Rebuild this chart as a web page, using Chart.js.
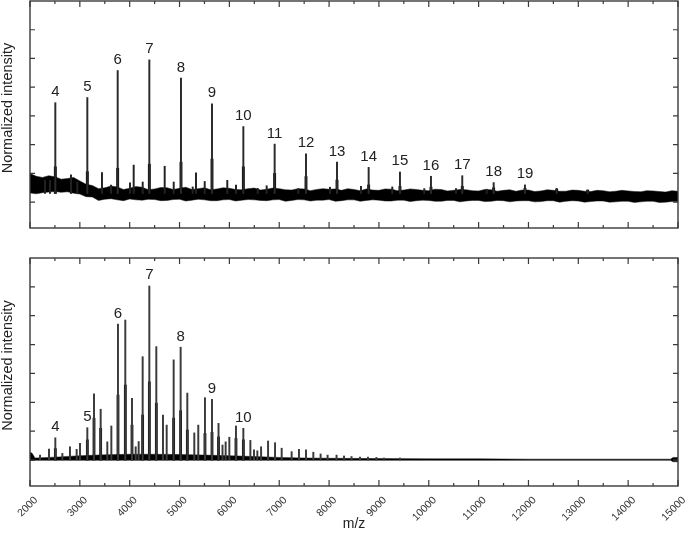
<!DOCTYPE html>
<html>
<head>
<meta charset="utf-8">
<script src="https://cdn.jsdelivr.net/npm/chart.js@4.4.1/dist/chart.umd.min.js"></script>
<style>
html,body{margin:0;padding:0;background:#fff;}
#wrap{position:relative;width:687px;height:533px;overflow:hidden;background:#fff;}
#c1{position:absolute;left:0;top:0;}
#c2{position:absolute;left:0;top:240px;}
</style>
</head>
<body>
<div id="wrap">
<canvas id="c1" width="687" height="240"></canvas>
<canvas id="c2" width="687" height="293"></canvas>
</div>
<script>
// ---------- shared axis data ----------
const X_MIN = 2000, X_MAX = 15000;
const xTickLabels = ['2000','3000','4000','5000','6000','7000','8000','9000','10000','11000','12000','13000','14000','15000'];
const xMinorTicks = [2500,3500,4500,5500,6500,7500,8500,9500,10500,11500,12500,13500,14500];
const yTickValues = [1,2,3,4,5,6,7];
const Y_MIN = 0.1, Y_MAX = 8.0;
const yTitle = 'Normalized intensity';
const xTitle = 'm/z';

// ---------- top panel ----------
const topPeakMz = [2508,3150,3759,4394,5029,5651,6280,6908,7537,8159,8794,9422,10044,10672,11302,11930,12566,13188];
const topPeakY  = [4.46,4.64,5.58,5.95,5.32,4.42,3.63,3.02,2.68,2.39,2.21,2.05,1.90,1.92,1.68,1.60,1.48,1.42];
const topBlobY  = [2.23,2.06,2.18,2.32,2.39,2.50,2.23,2.00,1.89,1.77,1.60,1.55,1.52,1.55,1.50,1.48,1.45,1.42];
const topLabels = ['4','5','6','7','8','9','10','11','12','13','14','15','16','17','18','19'];
const topMinorMz = [2301,2401,2822,2949,3444,3625,4006,4080,4261,4702,4883,5264,5330,5505,5958,6133,6567,6748,7383,8018,8640,9268,9910,10546,11162];
const topMinorY  = [1.76,1.76,1.95,1.70,2.03,1.59,1.67,2.29,1.70,2.25,1.70,1.53,2.02,1.72,1.76,1.59,1.48,1.57,1.47,1.52,1.55,1.53,1.47,1.47,1.45];
const topBase = 1.3;
const topBandX  = [2000,2125,2250,2375,2500,2625,2750,2875,3000,3125,3250,3375,3500,3625,3750,3875,4000,4125,4250,4375,4500,4625,4750,4875,5000,5125,5250,5375,5500,5625,5750,5875,6000,6125,6250,6375,6500,6625,6750,6875,7000,7125,7250,7375,7500,7625,7750,7875,8000,8125,8250,8375,8500,8625,8750,8875,9000,9125,9250,9375,9500,9625,9750,9875,10000,10125,10250,10375,10500,10625,10750,10875,11000,11125,11250,11375,11500,11625,11750,11875,12000,12125,12250,12375,12500,12625,12750,12875,13000,13125,13250,13375,13500,13625,13750,13875,14000,14125,14250,14375,14500,14625,14750,14875,15000];
const topBandHi = [2.00,1.90,1.86,1.92,1.88,1.80,1.82,1.86,1.74,1.62,1.58,1.47,1.50,1.56,1.53,1.44,1.48,1.54,1.52,1.43,1.46,1.51,1.50,1.44,1.48,1.52,1.44,1.47,1.50,1.43,1.46,1.50,1.48,1.44,1.43,1.47,1.49,1.42,1.45,1.49,1.47,1.43,1.42,1.47,1.46,1.40,1.44,1.47,1.45,1.46,1.41,1.47,1.44,1.40,1.46,1.42,1.41,1.46,1.45,1.40,1.42,1.46,1.44,1.41,1.40,1.45,1.44,1.39,1.41,1.44,1.43,1.40,1.39,1.44,1.43,1.38,1.41,1.43,1.38,1.42,1.42,1.37,1.39,1.43,1.41,1.38,1.38,1.42,1.41,1.38,1.37,1.41,1.40,1.36,1.38,1.41,1.39,1.37,1.36,1.40,1.39,1.37,1.35,1.40,1.38];
const topBandLo = [1.32,1.29,1.33,1.35,1.37,1.34,1.36,1.31,1.28,1.19,1.18,1.06,1.10,1.12,1.08,1.05,1.11,1.08,1.07,1.10,1.09,1.05,1.06,1.09,1.10,1.04,1.07,1.10,1.08,1.05,1.05,1.08,1.09,1.04,1.07,1.09,1.08,1.06,1.05,1.08,1.09,1.03,1.06,1.09,1.08,1.04,1.07,1.07,1.09,1.03,1.05,1.08,1.08,1.03,1.06,1.08,1.07,1.04,1.04,1.07,1.07,1.02,1.05,1.07,1.06,1.03,1.03,1.06,1.06,1.01,1.04,1.06,1.06,1.02,1.03,1.06,1.05,1.01,1.04,1.05,1.05,1.01,1.02,1.05,1.05,1.00,1.03,1.05,1.04,1.00,1.02,1.04,1.04,1.00,1.01,1.03,1.03,0.99,1.01,1.03,1.03,0.99,1.00,1.02,1.02];

// ---------- bottom panel ----------
const botPeakMz = [2201,2381,2508,2649,2802,2936,3003,3150,3284,3418,3551,3632,3765,3912,4046,4120,4180,4260,4394,4534,4668,4742,4882,5022,5156,5296,5376,5510,5651,5782,5862,5925,5999,6132,6280,6421,6494,6561,6636,6776,6916,7049,7249,7396,7537,7684,7830,7970,8150,8300,8450,8620,8780,8950,9100,9420];
const botPeakY  = [1.17,1.38,1.77,1.23,1.46,1.37,1.58,2.12,3.29,2.76,1.63,2.18,5.71,5.85,3.14,1.46,1.64,4.58,7.03,4.93,2.56,2.21,4.47,4.91,3.32,1.94,2.21,3.16,3.10,2.27,1.52,1.63,1.79,2.18,2.10,1.68,1.35,1.32,1.46,1.66,1.60,1.41,1.29,1.37,1.35,1.27,1.21,1.17,1.17,1.14,1.12,1.10,1.10,1.09,1.07,1.07];
const botCoreMz = [2508,3150,3284,3418,3765,3912,4046,4260,4394,4534,4882,5022,5156,5510,5651,5782,6132,6280];
const botCoreY  = [1.40,1.70,2.45,2.10,3.25,3.60,2.21,2.56,3.71,2.97,2.45,2.71,2.04,1.92,1.96,1.80,1.75,1.70];
const botLabelMz = [2508,3150,3765,4394,5022,5651,6280];
const botLabels  = ['4','5','6','7','8','9','10'];
const botBase = 1.0;
const botBandX  = [2000,2040,2100,2500,3000,3500,4000,4500,5000,5500,6000,6500,7000,7500,8000,9000,10000,11000,12000,13000,14000,14850,14900,15000];
const botBandHi = [1.26,1.24,1.07,1.10,1.15,1.18,1.20,1.20,1.19,1.17,1.15,1.12,1.09,1.07,1.06,1.05,1.04,1.04,1.03,1.03,1.03,1.03,1.09,1.09];
const botBandLo = [0.98,0.98,0.99,0.99,0.99,0.99,0.99,0.99,0.99,0.99,0.99,0.99,0.99,0.99,0.99,0.99,0.99,0.99,0.99,0.99,0.99,0.99,0.94,0.94];

// ---------- helpers ----------
const FONT = '"Liberation Sans", Arial, Helvetica, sans-serif';
function pts(xs, ys){ return xs.map((x,i)=>({x:x, y:ys[i]})); }
function sticks(xs, ys, base){ return xs.map((x,i)=>({x:x, y:[base, ys[i]]})); }

function bandSets(xs, hi, lo){
  return [
    {type:'line', data:pts(xs,hi), borderColor:'#111', borderWidth:0.5, pointRadius:0, tension:0, fill:false, order:5},
    {type:'line', data:pts(xs,lo), borderColor:'#111', borderWidth:0.5, pointRadius:0, tension:0, fill:'-1', backgroundColor:'#000', order:5}
  ];
}
function stickSet(xs, ys, base, color, w){
  return {type:'bar', data:sticks(xs,ys,base), backgroundColor:color, borderWidth:0, barThickness:w, grouped:false, order:1};
}

const frameTicks = {
  id:'frameTicks',
  afterDatasetsDraw(chart){
    const ctx = chart.ctx, a = chart.chartArea, x = chart.scales.x, y = chart.scales.y;
    ctx.save();
    ctx.strokeStyle = '#3a3a3a';
    ctx.lineWidth = 1.4;
    ctx.strokeRect(a.left, a.top, a.right - a.left, a.bottom - a.top);
    ctx.lineWidth = 1.2;
    ctx.beginPath();
    xTickLabels.forEach(t => {
      const px = x.getPixelForValue(Number(t));
      ctx.moveTo(px, a.bottom); ctx.lineTo(px, a.bottom - 6);
      ctx.moveTo(px, a.top); ctx.lineTo(px, a.top + 6);
    });
    xMinorTicks.forEach(v => {
      const px = x.getPixelForValue(v);
      ctx.moveTo(px, a.bottom); ctx.lineTo(px, a.bottom - 3);
      ctx.moveTo(px, a.top); ctx.lineTo(px, a.top + 3);
    });
    yTickValues.forEach(v => {
      const py = y.getPixelForValue(v);
      ctx.moveTo(a.left, py); ctx.lineTo(a.left + 5, py);
      ctx.moveTo(a.right, py); ctx.lineTo(a.right - 5, py);
    });
    ctx.stroke();
    ctx.translate(8, (a.top + a.bottom) / 2 - 6.5);
    ctx.rotate(-Math.PI / 2);
    ctx.font = '14.5px ' + FONT;
    ctx.fillStyle = '#222';
    ctx.textAlign = 'center';
    ctx.textBaseline = 'middle';
    ctx.fillText(yTitle, 0, 0);
    ctx.restore();
  }
};

function labelPlugin(peakMz, peakY, labelMz, labels){
  return {
    id:'peakLabels',
    afterDatasetsDraw(chart){
      const ctx = chart.ctx, x = chart.scales.x, y = chart.scales.y;
      ctx.save();
      ctx.font = '15px ' + FONT;
      ctx.fillStyle = '#222';
      ctx.textAlign = 'center';
      ctx.textBaseline = 'alphabetic';
      labels.forEach((t,i) => {
        const k = peakMz.indexOf(labelMz[i]);
        const px = x.getPixelForValue(labelMz[i]);
        const py = y.getPixelForValue(peakY[k]) - 6.5;
        ctx.fillText(t, px, py);
      });
      ctx.restore();
    }
  };
}

const baseOpts = {
  responsive:false, animation:false, devicePixelRatio:1,
  plugins:{legend:{display:false}, tooltip:{enabled:false}},
  events:[]
};

// ---------- top chart ----------
new Chart(document.getElementById('c1'), {
  type:'bar',
  data:{datasets:[
    ...bandSets(topBandX, topBandHi, topBandLo),
    stickSet(topMinorMz, topMinorY, topBase, '#222', 1.3),
    stickSet(topPeakMz, topPeakY, topBase, '#2a2a2a', 1.3),
    stickSet(topPeakMz, topBlobY, topBase, '#000', 2.2)
  ]},
  options:Object.assign({}, baseOpts, {
    layout:{padding:{left:30, right:9, top:1, bottom:12}},
    scales:{
      x:{type:'linear', min:X_MIN, max:X_MAX, offset:false, display:false},
      y:{type:'linear', min:Y_MIN, max:Y_MAX, display:false}
    }
  }),
  plugins:[frameTicks, labelPlugin(topPeakMz, topPeakY, topPeakMz.slice(0, topLabels.length), topLabels)]
});

// ---------- bottom chart ----------
new Chart(document.getElementById('c2'), {
  type:'bar',
  data:{datasets:[
    ...bandSets(botBandX, botBandHi, botBandLo),
    stickSet(botPeakMz, botPeakY, botBase, '#3a3a3a', 1.3),
    stickSet(botCoreMz, botCoreY, botBase, '#000', 2.1)
  ]},
  options:Object.assign({}, baseOpts, {
    layout:{padding:{left:30, right:9, top:18, bottom:0}},
    scales:{
      x:{type:'linear', min:X_MIN, max:X_MAX, offset:false,
         grid:{display:false}, border:{display:false},
         afterFit:(s)=>{ s.height = 47; s.paddingLeft = 0; s.paddingRight = 0; },
         ticks:{stepSize:1000, autoSkip:false, maxRotation:45, minRotation:45, padding:0, labelOffset:6,
                color:'#333', font:{family:FONT, size:10.5},
                callback:(v,i)=>xTickLabels[i]},
         title:{display:true, text:xTitle, color:'#222', font:{family:FONT, size:14}, padding:{top:0, bottom:0}}
      },
      y:{type:'linear', min:Y_MIN, max:Y_MAX, display:false}
    }
  }),
  plugins:[frameTicks, labelPlugin(botPeakMz, botPeakY, botLabelMz, botLabels)]
});
</script>
</body>
</html>
